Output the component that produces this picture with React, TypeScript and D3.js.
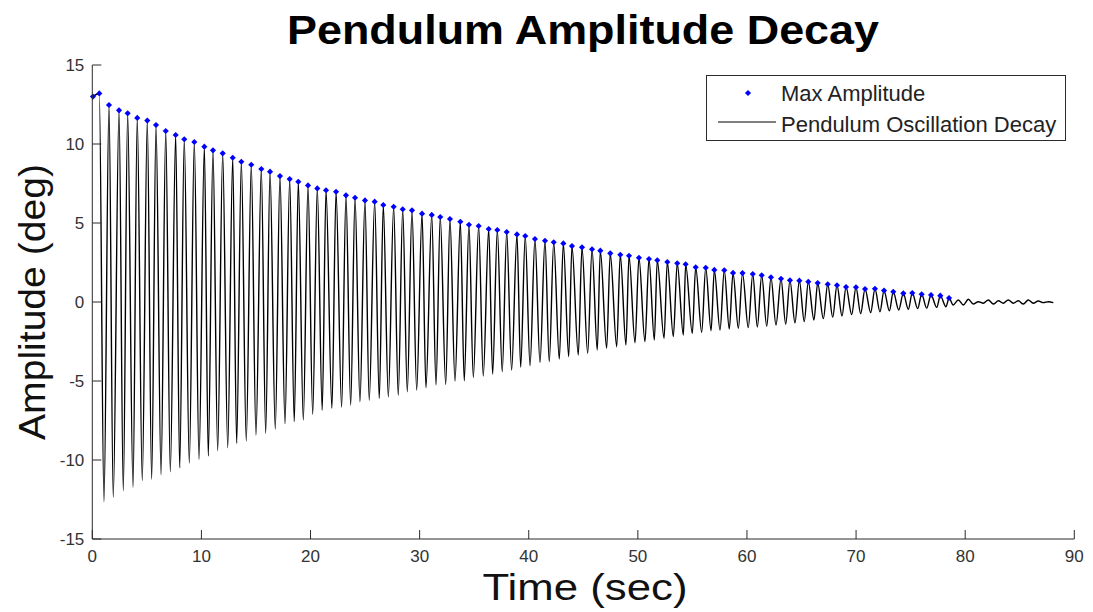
import React, { useEffect } from 'react';
import * as d3 from 'd3';

// peaks of each swing (the blue markers)
const peakTimes = [
  0.06, 0.64, 1.53, 2.45, 3.24, 4.12, 5.04, 5.84, 6.73, 7.64, 8.43, 9.35, 10.27, 11.06, 11.95, 12.87, 13.66, 14.57, 15.49, 16.29, 17.2, 18.09, 18.88, 19.77,
  20.62, 21.42, 22.34, 23.25, 24.08, 24.99, 25.88, 26.67, 27.62, 28.45, 29.3, 30.22, 31.11, 31.89, 32.78, 33.73, 34.52, 35.41, 36.33, 37.12, 37.98, 38.92, 39.68,
  40.57, 41.49, 42.29, 43.17, 43.96, 44.88, 45.8, 46.56, 47.47, 48.39, 49.19, 50.1, 51.02, 51.78, 52.7, 53.61, 54.38, 55.3, 56.22, 57.01, 57.92, 58.72, 59.59,
  60.53, 61.35, 62.2, 63.12, 63.94, 64.8, 65.62, 66.48, 67.4, 68.25, 69.08, 69.99, 70.82, 71.73, 72.56, 73.41, 74.33, 75.15, 76.01, 76.87, 77.72, 78.52,
];
const peakValues = [
  13.0, 13.2, 12.47, 12.13, 11.94, 11.65, 11.48, 11.2, 10.82, 10.57, 10.3, 10.13, 9.83, 9.6, 9.41, 9.13, 8.88, 8.69, 8.42, 8.25, 7.97, 7.78, 7.61, 7.38,
  7.19, 7.07, 6.98, 6.75, 6.6, 6.43, 6.35, 6.14, 6.03, 5.87, 5.8, 5.59, 5.51, 5.38, 5.25, 5.08, 4.89, 4.81, 4.62, 4.56, 4.43, 4.28, 4.18,
  3.99, 3.88, 3.78, 3.71, 3.54, 3.46, 3.34, 3.25, 3.08, 2.99, 2.93, 2.8, 2.72, 2.64, 2.53, 2.45, 2.39, 2.2, 2.17, 2.03, 2.01, 1.84, 1.83,
  1.77, 1.69, 1.56, 1.47, 1.37, 1.35, 1.28, 1.2, 1.12, 1.06, 0.95, 0.93, 0.82, 0.84, 0.72, 0.65, 0.55, 0.57, 0.49, 0.44, 0.4, 0.25,
];

// bottoms of each swing
const troughTimes = [
  1.07, 1.92, 2.84, 3.73, 4.58, 5.44, 6.3, 7.15, 8.01, 8.89, 9.78, 10.63, 11.49, 12.41, 13.23, 14.11, 15.0, 15.89, 16.77, 17.66, 18.51,
  19.34, 20.2, 21.07, 21.96, 22.85, 23.68, 24.53, 25.38, 26.3, 27.13, 28.04, 28.87, 29.73, 30.58, 31.5, 32.39, 33.24, 34.09, 34.92, 35.83, 36.69, 37.57, 38.43, 39.26,
  40.12, 41.03, 41.88, 42.8, 43.66, 44.54, 45.4, 46.28, 47.14, 48.06, 48.91, 49.74, 50.65, 51.51, 52.4, 53.25, 54.17, 54.99, 55.85, 56.71, 57.53, 58.38, 59.21,
  60.12, 60.95, 61.81, 62.66, 63.55, 64.4, 65.25, 66.14, 67.0, 67.86, 68.71, 69.6, 70.42, 71.34, 72.19, 73.05, 73.91, 74.79, 75.65, 76.47, 77.39, 78.24,
];
const troughValues = [
  -12.64, -12.36, -11.94, -11.73, -11.3, -11.22, -10.93, -10.74, -10.5, -10.2, -9.96, -9.75, -9.41, -9.22, -8.95, -8.8, -8.42, -8.31, -8.04, -7.7, -7.57,
  -7.47, -7.11, -6.85, -6.73, -6.65, -6.52, -6.31, -6.22, -6.1, -6.0, -5.89, -5.68, -5.57, -5.42, -5.25, -5.21, -5.0, -4.98, -4.77, -4.68, -4.56, -4.41, -4.3, -4.13,
  -4.03, -3.84, -3.78, -3.61, -3.46, -3.35, -3.25, -3.04, -2.93, -2.83, -2.72, -2.58, -2.51, -2.41, -2.3, -2.19, -2.09, -1.98, -1.92, -1.82, -1.77, -1.71, -1.66,
  -1.62, -1.58, -1.53, -1.46, -1.4, -1.32, -1.24, -1.14, -1.05, -0.96, -0.88, -0.8, -0.74, -0.67, -0.62, -0.56, -0.51, -0.46, -0.42, -0.39, -0.34, -0.3,
];

// small wiggle after the last marked peak
const tailTimes = [78.9, 79.37, 79.83, 80.29, 80.74, 81.2, 81.66, 82.12, 82.58, 83.04, 83.49, 83.95, 84.41, 84.87, 85.33, 85.78, 86.24, 86.7, 87.16, 87.62, 88.08];
const tailValues = [-0.19, 0.13, -0.19, 0.17, -0.13, 0.02, -0.08, 0.13, -0.13, 0.08, -0.08, 0.13, -0.08, 0.08, -0.13, 0.13, -0.08, 0.06, -0.04, 0.02, -0.04];

const xTicks = [0, 10, 20, 30, 40, 50, 60, 70, 80, 90];
const yTicks = [-15, -10, -5, 0, 5, 10, 15];

const FONT = '"Liberation Sans", Arial, Helvetica, sans-serif';
const AXIS = '#2b2b2b';

export default function App() {
  useEffect(() => {
    document.body.style.margin = '0';
  }, []);

  const width = 1093;
  const height = 612;

  const x = d3.scaleLinear().domain([0, 90]).range([92.3, 1074.3]);
  const y = d3.scaleLinear().domain([-15, 15]).range([539, 65]);

  const peaks = peakTimes.map((t, i) => ({ t, v: peakValues[i] }));
  const troughs = troughTimes.map((t, i) => ({ t, v: troughValues[i] }));
  const tail = tailTimes.map((t, i) => ({ t, v: tailValues[i] }));
  const signal = [...peaks, ...troughs, ...tail].sort((a, b) => a.t - b.t);

  const line = d3
    .line<{ t: number; v: number }>()
    .x(d => x(d.t))
    .y(d => y(d.v))
    .curve(d3.curveMonotoneX);

  const diamond = d3.symbol().type(d3.symbolDiamond2).size(24)();

  const [x0, x1] = x.range();
  const [y0, y1] = y.range();
  const tick = 9;

  return (
    <svg
      width={width}
      height={height}
      style={{ position: 'absolute', left: 0, top: 0, background: '#fff' }}
      fontFamily={FONT}
    >
      <rect width={width} height={height} fill="#fff" />

      {/* title */}
      <text
        x={583}
        y={44}
        textAnchor="middle"
        fontSize={41}
        fontWeight="bold"
        textLength={592}
        lengthAdjust="spacingAndGlyphs"
        fill="#000"
      >
        Pendulum Amplitude Decay
      </text>

      {/* oscillation */}
      <path d={line(signal) || ''} fill="none" stroke="#000" strokeWidth={1.4} />

      {/* peak markers */}
      {peaks.map((d, i) => (
        <path key={i} d={diamond || ''} transform={`translate(${x(d.t)},${y(d.v)})`} fill="#0000ff" />
      ))}

      {/* axes */}
      <line x1={x0} x2={x0} y1={y1} y2={y0} stroke={AXIS} strokeWidth={1} />
      <line x1={x0} x2={x1} y1={y0} y2={y0} stroke={AXIS} strokeWidth={1} />

      {yTicks.map(t => (
        <g key={`y${t}`}>
          <line x1={x0} x2={x0 + tick} y1={y(t)} y2={y(t)} stroke={AXIS} />
          <text x={x0 - 8} y={y(t)} dy="0.36em" textAnchor="end" fontSize={17} fill="#333">
            {t}
          </text>
        </g>
      ))}

      {xTicks.map(t => (
        <g key={`x${t}`}>
          <line x1={x(t)} x2={x(t)} y1={y0} y2={y0 - tick} stroke={AXIS} />
          <text x={x(t)} y={y0 + 23} textAnchor="middle" fontSize={17} fill="#333">
            {t}
          </text>
        </g>
      ))}

      {/* axis labels */}
      <text
        x={585}
        y={600}
        textAnchor="middle"
        fontSize={37}
        textLength={205}
        lengthAdjust="spacingAndGlyphs"
        fill="#111"
      >
        Time (sec)
      </text>
      <text
        transform={`translate(45,${(y0 + y1) / 2}) rotate(-90)`}
        textAnchor="middle"
        fontSize={37}
        textLength={276}
        lengthAdjust="spacingAndGlyphs"
        fill="#111"
      >
        Amplitude (deg)
      </text>

      {/* legend */}
      <g>
        <rect x={706.5} y={75.5} width={359} height={65} fill="#fff" stroke={AXIS} strokeWidth={1} />
        <path d={diamond || ''} transform="translate(748,93)" fill="#0000ff" />
        <text x={781} y={101} fontSize={22} fill="#222">
          Max Amplitude
        </text>
        <line x1={718} x2={776} y1={122} y2={122} stroke="#000" strokeWidth={1.2} />
        <text x={781} y={132} fontSize={22} fill="#222">
          Pendulum Oscillation Decay
        </text>
      </g>
    </svg>
  );
}
